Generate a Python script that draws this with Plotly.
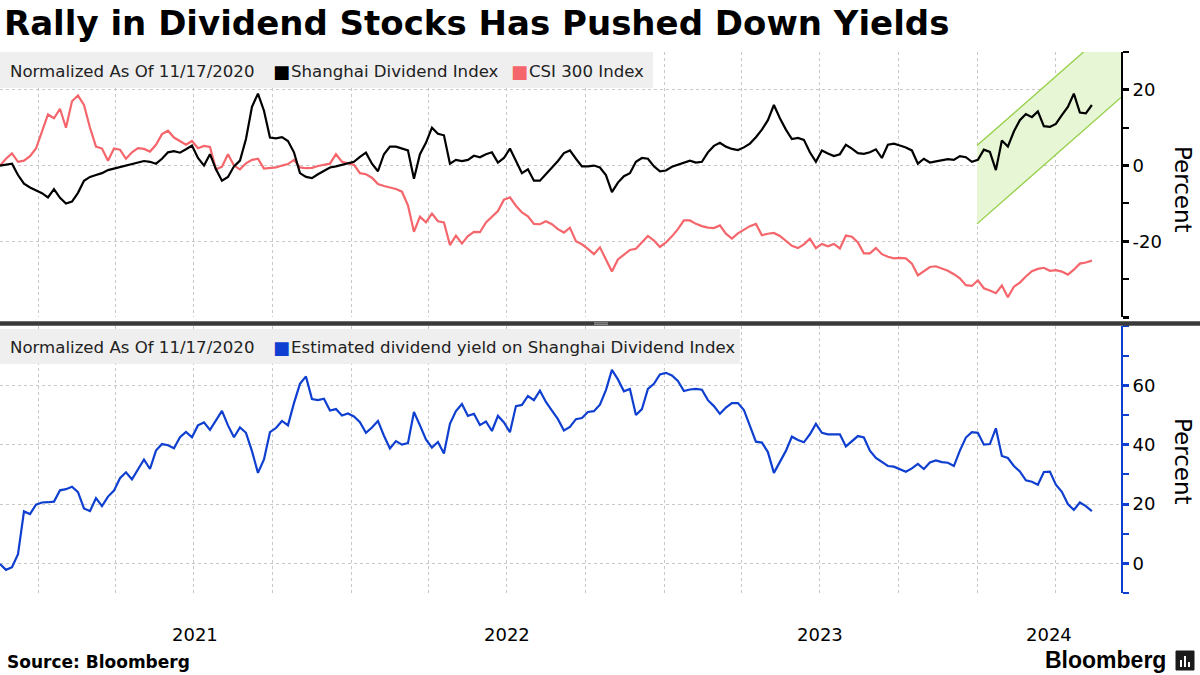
import pandas as pd
import plotly.graph_objects as go

# ---------------- data (weekly readings) ----------------
dates = pd.date_range("2020-11-17", periods=183, freq="7D")

shanghai_div = [
    0, 0.3, 0.5, -2.5, -4.8, -5.8, -6.5, -7.3, -8.4, -6.2,
    -8.5, -10, -9.5, -7.2, -4, -3, -2.5, -2, -1.2, -0.8,
    -0.5, 0, 0.5, 0.8, 1.2, 1, 0.5, 1.8, 3.5, 3.8,
    3.4, 4.3, 5.3, 2, 0, 3, -1, -4, -3, -0.2,
    1.3, 7, 15.5, 19, 14.5, 7.4, 7.2, 7.5, 6.5, 3.5,
    -2, -3, -3.3, -2.3, -1.5, -0.5, -0.2, 0.2, 0.5, 1,
    2.3, 3.4, 0.5, -1.5, 3, 5, 5, 4.5, 4, -3.5,
    3, 6, 10, 8.4, 8, 0.5, 1.5, 1.2, 1.5, 2.6,
    2.2, 3, 3.5, 0.8, 2, 4.5, 1.2, -2, -1, -4,
    -4, -2.3, -0.5, 1.2, 3.3, 4, 1.8, -0.2, -0.2, 0,
    -0.5, -2.5, -7, -4.5, -2.8, -2, 1, 2, 1.8, -0.2,
    -1.5, -1.3, -0.3, 0.3, 0.8, 1.3, 0.8, 1, 3.5, 5.2,
    6, 5, 4.4, 4.1, 4.8, 5.8, 7.5, 9.5, 12, 16,
    12.5, 9.5, 7, 7.3, 6.8, 3.5, 1, 4, 3.2, 2.5,
    3, 5.5, 4.5, 3.3, 3.1, 3.5, 4.3, 2, 5.5, 5.8,
    5.3, 4.8, 4, 0.5, 1.8, 0.8, 1.1, 1.4, 1.7, 1.5,
    2.5, 2.2, 1, 1.5, 4.2, 3.6, -1.2, 6.6, 5, 9,
    12, 13.6, 12.8, 14.3, 10.4, 10.2, 11, 13.3, 15.5, 19,
    14, 13.8, 16,
]

csi300 = [
    0, 1.8, 3.2, 1, 1.3, 2.5, 4.5, 9.2, 13.5, 12.5,
    15, 10, 17, 18.5, 16, 10, 5, 4.5, 1.3, 4.5,
    4.2, 1.8, 3.5, 4.6, 4.4, 3.7, 5.5, 8.3, 9.2, 7.4,
    6.5, 5.5, 6.5, 4.6, 5.2, 4.9, -1, -0.3, 3, 0,
    -1, 0.6, 1.5, 1.8, -0.8, -0.6, -0.5, 0, 0.4, 1.5,
    -0.5, -0.7, -0.6, -0.1, 0.2, 0.5, 3, 1, 0.6, 0.2,
    -2, -2.3, -3.2, -4.9, -5.4, -5.7, -6.2, -6.9, -10.5, -17.5,
    -13.5, -15, -12.7, -14.7, -15, -21, -18.5, -20.6, -18.6, -17.5,
    -17.6, -15, -13.4, -12, -9, -8.4, -10.6, -12.4, -13.4, -15.4,
    -15.5, -14.7, -15.5, -16.8, -17.7, -16.4, -20, -20.8, -22, -23.4,
    -21.6, -24.6, -28, -24.8, -23.5, -22.3, -22, -20.3, -18.6, -19.8,
    -21.5, -20.3, -18.7, -16.8, -14.5, -14.5, -15.4, -16, -16.4, -16.5,
    -15.8, -18, -19.3, -17.9, -16.9, -16, -15.4, -18.4, -18, -17.8,
    -18.6, -20, -21.2, -21.8, -20.8, -19.3, -21.8, -20.7, -21.3, -20.7,
    -21.9, -18.5, -18.8, -20.3, -23.2, -23.2, -21.8, -23.4, -24.1, -24.5,
    -24.4, -24.5, -25.9, -29, -27.8, -26.8, -26.6, -27.1, -27.8, -28.7,
    -29.8, -31.6, -31.8, -30.3, -32.4, -33, -33.7, -31.7, -34.8, -32,
    -30.9, -29.3, -27.9, -27.3, -27, -27.8, -27.6, -28, -28.8, -27.5,
    -25.9, -25.6, -25.1,
]

div_yield = [
    -0.2, -2.2, -1.3, 3.1, 17.5, 16.6, 19.8, 20.5, 20.6, 20.8,
    24.6, 25, 25.8, 24, 18.5, 17.6, 22, 19.3, 22.5, 24.5,
    28.7, 30.7, 28.3, 31.5, 35, 31.8, 38, 40.2, 39.8, 38.8,
    42.5, 44.3, 42.5, 46.5, 47.5, 45, 48, 51.4, 46.5, 42.5,
    45.8, 44, 37.8, 30.5, 35, 44.2, 45.6, 48, 46.5, 54,
    60.5, 63, 55.4, 55, 55.5, 51.5, 52, 49.8, 50.5, 49.5,
    47.6, 44, 45.8, 48, 43, 38.7, 41.2, 40, 40.5, 51,
    46.5, 41.8, 39, 40.9, 37, 47, 51.3, 53.7, 49.7, 50.4,
    46.6, 47.8, 44.6, 49.7, 47.5, 44.2, 53, 53.4, 56.4, 55,
    58.2, 54.4, 51.5, 48.6, 44.8, 46, 48.6, 49, 51, 51.3,
    53.5, 58.4, 65.2, 62, 58, 58.8, 50, 52, 58.8, 60.5,
    63.7, 64.2, 63.3, 61.5, 58.1, 58.6, 58.8, 58.5, 55, 53,
    50.4, 52.5, 54, 54, 51.7, 46, 41, 40.7, 37.5, 30.5,
    34.1, 37.9, 42.7, 41.6, 40.8, 43.5, 47, 44, 43.5, 43.5,
    43.5, 39.4, 41, 42.9, 42.4, 38, 35.5, 34, 32.8, 32.6,
    31.8, 30.9, 32, 33.5, 31.8, 34, 34.7, 34.1, 33.9, 32.8,
    38, 42.4, 44.2, 44, 40, 40.2, 45.5, 36.2, 35.5, 32.8,
    31, 28, 27.5, 26.5, 30.8, 30.9, 26.5, 24.1, 20, 18,
    20.5, 19.3, 17.6,
]

channel_dates = ["2024-01-01", "2024-06-17"]
channel_upper = [5.3, 38.7]
channel_lower = [-15.4, 18.0]

x_range = ["2020-11-17", "2024-06-17"]
grid_dates = pd.date_range("2021-01-01", "2024-04-01", freq="QS")
year_labels = ["2021", "2022", "2023", "2024"]
year_label_dates = ["2021-07-02", "2022-07-02", "2023-07-02", "2024-03-25"]

top_ticks = [-40, -20, 0, 20]
top_ticktext = ["", "-20", "0", "20"]
top_minor = [-30, -10, 10, 30]
bot_ticks = [0, 20, 40, 60]
bot_minor = [-10, 10, 30, 50, 70, 80]

# ---------------- styling ----------------
BLACK = "#000000"
RED = "#f4666b"
BLUE = "#0f3fd0"
GRID = "#c8c8c8"
FONT = "DejaVu Sans"

W, H = 1200, 675
ML, MR, MT, MB = 0, 79, 52, 82
PW, PH = W - ML - MR, H - MT - MB


def fx(p):
    return (p - ML) / PW


def fy(p):
    return (H - MB - p) / PH


fig = go.Figure()

# channel
fig.add_trace(go.Scatter(
    x=[channel_dates[0], channel_dates[1], channel_dates[1], channel_dates[0]],
    y=[channel_lower[0], channel_lower[1], channel_upper[1], channel_upper[0]],
    fill="toself", fillcolor="#e7f6d5", mode="lines", line=dict(width=0),
    xaxis="x", yaxis="y", hoverinfo="skip", showlegend=False))
for vals in (channel_upper, channel_lower):
    fig.add_trace(go.Scatter(x=channel_dates, y=vals, mode="lines",
                             line=dict(color="#93cf45", width=1.3),
                             xaxis="x", yaxis="y", hoverinfo="skip", showlegend=False))

fig.add_trace(go.Scatter(x=dates, y=csi300, mode="lines", name="CSI 300 Index",
                         line=dict(color=RED, width=2.2), xaxis="x", yaxis="y", showlegend=False))
fig.add_trace(go.Scatter(x=dates, y=shanghai_div, mode="lines", name="Shanghai Dividend Index",
                         line=dict(color=BLACK, width=2.2), xaxis="x", yaxis="y", showlegend=False))
fig.add_trace(go.Scatter(x=dates, y=div_yield, mode="lines",
                         name="Estimated dividend yield on Shanghai Dividend Index",
                         line=dict(color=BLUE, width=2.2), xaxis="x2", yaxis="y2", showlegend=False))

xa = dict(type="date", range=x_range, tickmode="array", tickvals=list(grid_dates),
          showticklabels=False, showgrid=True, gridcolor=GRID, griddash="dot", gridwidth=1,
          ticks="", showline=False, zeroline=False)

top_dom = [fy(317), 1]
bot_dom = [0, fy(326)]

fig.update_layout(
    width=W, height=H,
    margin=dict(l=ML, r=MR, t=MT, b=MB),
    paper_bgcolor="white", plot_bgcolor="white",
    showlegend=False,
    font=dict(family=FONT, color="black"),
    xaxis=dict(xa, domain=[0, 1], anchor="y"),
    xaxis2=dict(xa, domain=[0, 1], anchor="y2", matches="x"),
    yaxis=dict(domain=top_dom, anchor="x", side="right", range=[-40, 30],
               tickmode="array", tickvals=top_ticks, ticktext=top_ticktext,
               showgrid=True, gridcolor=GRID, griddash="dot", zeroline=False,
               showline=True, linecolor=BLACK, linewidth=2,
               ticks="outside", ticklen=6, tickwidth=3, tickcolor=BLACK,
               tickfont=dict(family=FONT, size=18, color="black"),
               minor=dict(tickmode="array", tickvals=top_minor, ticks="outside", ticklen=6,
                          tickwidth=1.5, tickcolor=BLACK, showgrid=False)),
    yaxis2=dict(domain=bot_dom, anchor="x2", side="right", range=[-10, 80],
                tickmode="array", tickvals=bot_ticks,
                showgrid=True, gridcolor=GRID, griddash="dot", zeroline=False,
                showline=True, linecolor=BLUE, linewidth=2,
                ticks="outside", ticklen=6, tickwidth=3, tickcolor=BLUE,
                tickfont=dict(family=FONT, size=18, color="black"),
                minor=dict(tickmode="array", tickvals=bot_minor, ticks="outside", ticklen=6,
                           tickwidth=1.5, tickcolor=BLUE, showgrid=False)),
)

shapes = [
    # legend boxes
    dict(type="rect", xref="paper", yref="paper", x0=fx(0), x1=fx(653), y0=fy(88), y1=fy(52),
         fillcolor="#efefef", line=dict(width=0), layer="above"),
    dict(type="rect", xref="paper", yref="paper", x0=fx(0), x1=fx(740), y0=fy(364), y1=fy(329),
         fillcolor="#efefef", line=dict(width=0), layer="above"),
    # separator bar
    dict(type="rect", xref="paper", yref="paper", x0=fx(0), x1=fx(1200), y0=fy(325.7), y1=fy(321.3),
         fillcolor="#3a3a3a", line=dict(width=0), layer="above"),
    dict(type="line", xref="paper", yref="paper", x0=fx(594), x1=fx(608), y0=fy(322.8), y1=fy(322.8),
         line=dict(color="#9a9a9a", width=1), layer="above"),
    dict(type="line", xref="paper", yref="paper", x0=fx(594), x1=fx(608), y0=fy(324.3), y1=fy(324.3),
         line=dict(color="#9a9a9a", width=1), layer="above"),
    # logo icon
    dict(type="rect", xref="paper", yref="paper", x0=fx(1176), x1=fx(1194), y0=fy(670), y1=fy(651),
         fillcolor="#1b1b1b", line=dict(color="#1b1b1b", width=1), layer="above"),
]
for bx, top in ((1180, 660), (1184, 656), (1188, 662)):
    shapes.append(dict(type="rect", xref="paper", yref="paper", x0=fx(bx), x1=fx(bx + 2),
                       y0=fy(667), y1=fy(top), fillcolor="white", line=dict(width=0), layer="above"))
fig.update_layout(shapes=shapes)

ann = []


def text(x, y, s, size, xanchor="left", color="#222222", family=FONT, **kw):
    ann.append(dict(xref="paper", yref="paper", x=fx(x), y=fy(y), text=s, showarrow=False,
                    xanchor=xanchor, yanchor="middle",
                    font=dict(family=family, size=size, color=color), **kw))


text(2, 23, "<b>Rally in Dividend Stocks Has Pushed Down Yields</b>", 34, color="black")
# top legend
text(8, 71, "Normalized As Of 11/17/2020", 16.6)
text(271, 71, "■", 18, color=BLACK)
text(289, 71, "Shanghai Dividend Index", 16.6)
text(509, 71, "■", 18, color=RED)
text(527, 71, "CSI 300 Index", 16.6)
# bottom legend
text(8, 347, "Normalized As Of 11/17/2020", 16.6)
text(271, 347, "■", 18, color=BLUE)
text(289, 347, "Estimated dividend yield on Shanghai Dividend Index", 16.6)
# axis titles
text(1183, 189, "Percent", 23, xanchor="center", color="black", textangle=90)
text(1183, 461, "Percent", 23, xanchor="center", color="black", textangle=90)
# footer
text(5, 662, "<b>Source: Bloomberg</b>", 17, color="black")
text(1168, 660, "<b>Bloomberg</b>", 23, xanchor="right", color="black", family="Liberation Sans")

for lab, d in zip(year_labels, year_label_dates):
    ann.append(dict(xref="x2", yref="paper", x=d, y=fy(634), text=lab, showarrow=False,
                    xanchor="center", yanchor="middle",
                    font=dict(family=FONT, size=18, color="black")))

fig.update_layout(annotations=ann)

fig.write_html("out.html", config={"displayModeBar": False},
               post_script="document.body.style.margin='0';")
